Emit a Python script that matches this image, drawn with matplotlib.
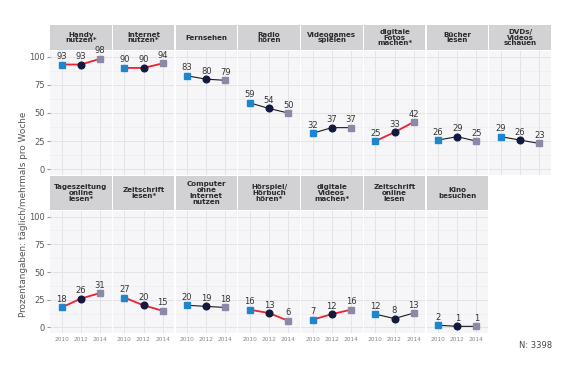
import matplotlib
matplotlib.use("Agg")
import matplotlib.pyplot as plt

years = ["2010", "2012", "2014"]
titles_top = ["Handy\nnutzen*", "Internet\nnutzen*", "Fernsehen", "Radio\nhören",
              "Videogames\nspielen", "digitale\nFotos\nmachen*", "Bücher\nlesen", "DVDs/\nVideos\nschauen"]
values_top = [[93, 93, 98], [90, 90, 94], [83, 80, 79], [59, 54, 50],
              [32, 37, 37], [25, 33, 42], [26, 29, 25], [29, 26, 23]]
titles_bot = ["Tageszeitung\nonline\nlesen*", "Zeitschrift\nlesen*", "Computer\nohne\nInternet\nnutzen",
              "Hörspiel/\nHörbuch\nhören*", "digitale\nVideos\nmachen*", "Zeitschrift\nonline\nlesen", "Kino\nbesuchen"]
values_bot = [[18, 26, 31], [27, 20, 15], [20, 19, 18], [16, 13, 6],
              [7, 12, 16], [12, 8, 13], [2, 1, 1]]
yticks = [0, 25, 50, 75, 100]

W, H = 580, 365
fig = plt.figure(figsize=(W / 100, H / 100), dpi=100)
fig.patch.set_facecolor("white")

marker_colors = ["#1f86cc", "#121a3f", "#8a8aa6"]
marker_shapes = ["s", "o", "s"]
RED = "#f0202c"


def fx(px):
    return px / W


def fy(py):
    return 1 - py / H


def draw_row(titles, values, strip_top, strip_bot, panel_bot, show_x):
    for i, (t, v) in enumerate(zip(titles, values)):
        left = 50 + i * 62.75
        width = 61.5
        # strip
        sax = fig.add_axes([fx(left), fy(strip_bot), fx(width), (strip_bot - strip_top) / H])
        sax.set_facecolor("#d2d2d4")
        sax.set_xticks([]); sax.set_yticks([])
        for s in sax.spines.values():
            s.set_visible(False)
        sax.text(0.5, 0.5, t, ha="center", va="center", fontsize=5.1, fontweight="bold",
                 color="#2a2a2a", linespacing=0.98, transform=sax.transAxes)
        ax = fig.add_axes([fx(left), fy(panel_bot), fx(width), (panel_bot - strip_bot - 1) / H])
        ax.set_facecolor("#f6f6f8")
        ax.set_xlim(-0.6, 2.6)
        ax.set_ylim(-5, 105)
        ax.set_yticks(yticks)
        ax.set_yticks([12.5, 37.5, 62.5, 87.5], minor=True)
        ax.set_xticks(range(3))
        ax.grid(True, which="major", color="#e3e3e7", linewidth=0.7)
        ax.grid(True, which="minor", axis="y", color="#ececef", linewidth=0.5)
        ax.set_axisbelow(True)
        for s in ax.spines.values():
            s.set_visible(False)
        ax.tick_params(which="both", length=0)
        ax.tick_params(axis="y", which="major", length=2, color="#999999", labelsize=6,
                       labelcolor="#555555", pad=2)
        if i != 0:
            ax.set_yticklabels([])
            ax.tick_params(axis="y", length=0)
        if show_x:
            ax.set_xticklabels(years, fontsize=4.2, color="#888888")
            ax.tick_params(axis="x", pad=3)
        else:
            ax.set_xticklabels([])
        starred = t.endswith("*")
        ax.plot(range(3), v, color=RED if starred else "#1a1a1a",
                linewidth=1.3 if starred else 0.8, zorder=2)
        for k in range(3):
            ax.plot(k, v[k], marker=marker_shapes[k], color=marker_colors[k],
                    markersize=4.7 if marker_shapes[k] == "s" else 4.8, zorder=3, linestyle="none")
            ax.annotate(str(v[k]), (k, v[k]), xytext=(0, 2.5), textcoords="offset points",
                        ha="center", va="bottom", fontsize=6, color="#333333")


draw_row(titles_top, values_top, 25, 50, 175, False)
draw_row(titles_bot, values_bot, 176, 210, 333, True)

fig.text(fx(24), fy(214), "Prozentangaben: täglich/mehrmals pro Woche", rotation=90,
         ha="center", va="center", fontsize=6.4, color="#555555")
fig.text(fx(552), fy(346), "N: 3398", ha="right", va="center", fontsize=6, color="#444444")

fig.savefig("out.png", dpi=100, facecolor="white")
